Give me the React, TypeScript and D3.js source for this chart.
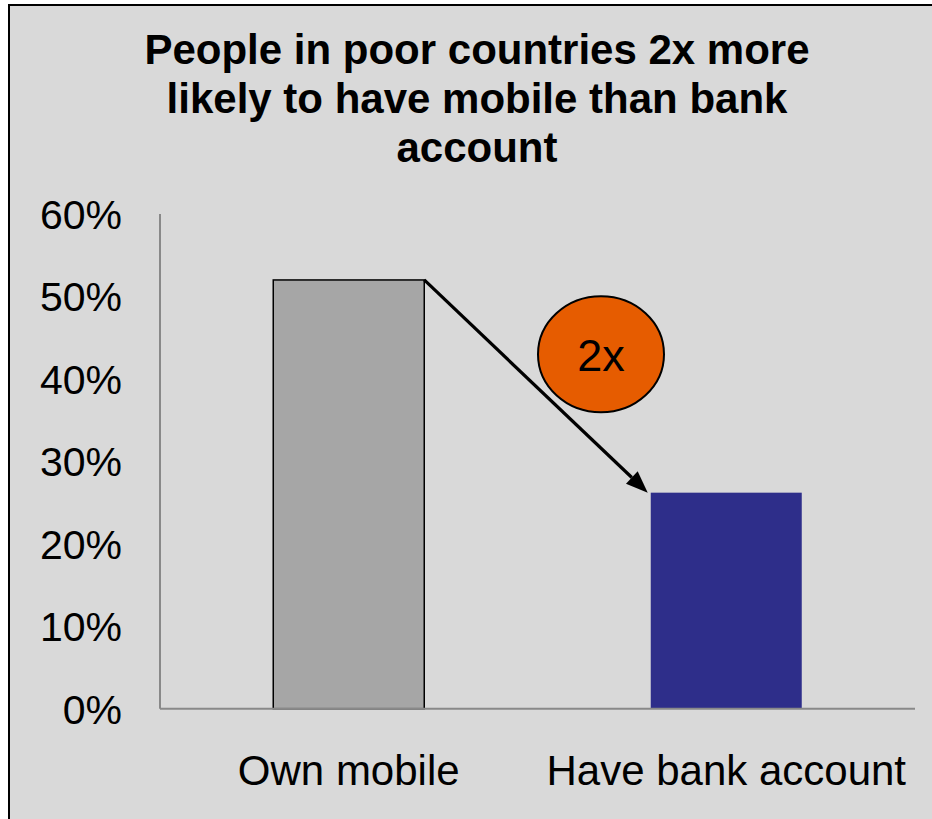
import React from "react";
import * as d3 from "d3";

const titleLines = ["People in poor countries 2x more", "likely to have mobile than bank", "account"];
const categories = ["Own mobile", "Have bank account"];
const values = [52, 26.2];
const barColors = ["#a6a6a6", "#2e2e8a"];
const barStrokes = ["#000000", "none"];
const yTicks = [0, 10, 20, 30, 40, 50, 60];
const annotationText = "2x";
const annotationValue = 43;

const W = 932;
const H = 819;
const FONT = "Arial, 'Liberation Sans', Helvetica, sans-serif";

export default function App() {
  const left = 160;
  const right = 915;
  const top = 214;
  const bottom = 708.7;

  const x = d3.scaleBand<string>().domain(categories).range([left, right]).paddingInner(0).paddingOuter(0);
  const y = d3.scaleLinear().domain([0, 60]).range([bottom, top]);
  const bw = x.bandwidth() * 0.4;
  const barX = (c: string) => (x(c) as number) + (x.bandwidth() - bw) / 2;

  const x0 = barX(categories[0]) + bw;
  const y0 = y(values[0]);
  const x1 = barX(categories[1]) - 3;
  const y1 = y(values[1]);
  const ang = Math.atan2(y1 - y0, x1 - x0);
  const headLen = 22;
  const headW = 8.5;
  const bx = x1 - headLen * Math.cos(ang);
  const by = y1 - headLen * Math.sin(ang);
  const px = -Math.sin(ang) * headW;
  const py = Math.cos(ang) * headW;

  const ellipseCx = (barX(categories[0]) + bw + barX(categories[1]) + bw) / 2 - 12;
  const ellipseCy = y(annotationValue);

  return (
    <svg
      width={W}
      height={H}
      style={{ position: "absolute", left: 0, top: 0, display: "block" }}
      fontFamily={FONT}
    >
      <rect x={0} y={0} width={W} height={H} fill="#ffffff" />
      <rect x={9} y={5} width={W + 20} height={H + 20} fill="#d9d9d9" stroke="#000" strokeWidth={2} />

      {titleLines.map((t, i) => (
        <text key={i} x={477} y={64 + i * 49} textAnchor="middle" fontSize={42} fontWeight="bold" fill="#000">
          {t}
        </text>
      ))}

      {yTicks.map((t) => (
        <text key={t} x={122} y={y(t) + 15} textAnchor="end" fontSize={41} fill="#000">
          {t}%
        </text>
      ))}

      {categories.map((c, i) => (
        <rect
          key={c}
          x={barX(c)}
          y={y(values[i])}
          width={bw}
          height={bottom - y(values[i])}
          fill={barColors[i]}
          stroke={barStrokes[i]}
          strokeWidth={1.5}
        />
      ))}

      <line x1={left} x2={left} y1={top} y2={bottom} stroke="#898989" strokeWidth={2} />
      <line x1={left} x2={right} y1={bottom} y2={bottom} stroke="#898989" strokeWidth={2} />

      {categories.map((c) => (
        <text key={c} x={(x(c) as number) + x.bandwidth() / 2} y={785} textAnchor="middle" fontSize={42} fill="#000">
          {c}
        </text>
      ))}

      <line x1={x0} y1={y0} x2={bx} y2={by} stroke="#000" strokeWidth={3.2} />
      <polygon points={`${x1},${y1} ${bx + px},${by + py} ${bx - px},${by - py}`} fill="#000" />

      <ellipse cx={ellipseCx} cy={ellipseCy} rx={63} ry={58} fill="#e65c00" stroke="#000" strokeWidth={2} />
      <text x={ellipseCx} y={ellipseCy + 17} textAnchor="middle" fontSize={45} fill="#000">
        {annotationText}
      </text>
    </svg>
  );
}
